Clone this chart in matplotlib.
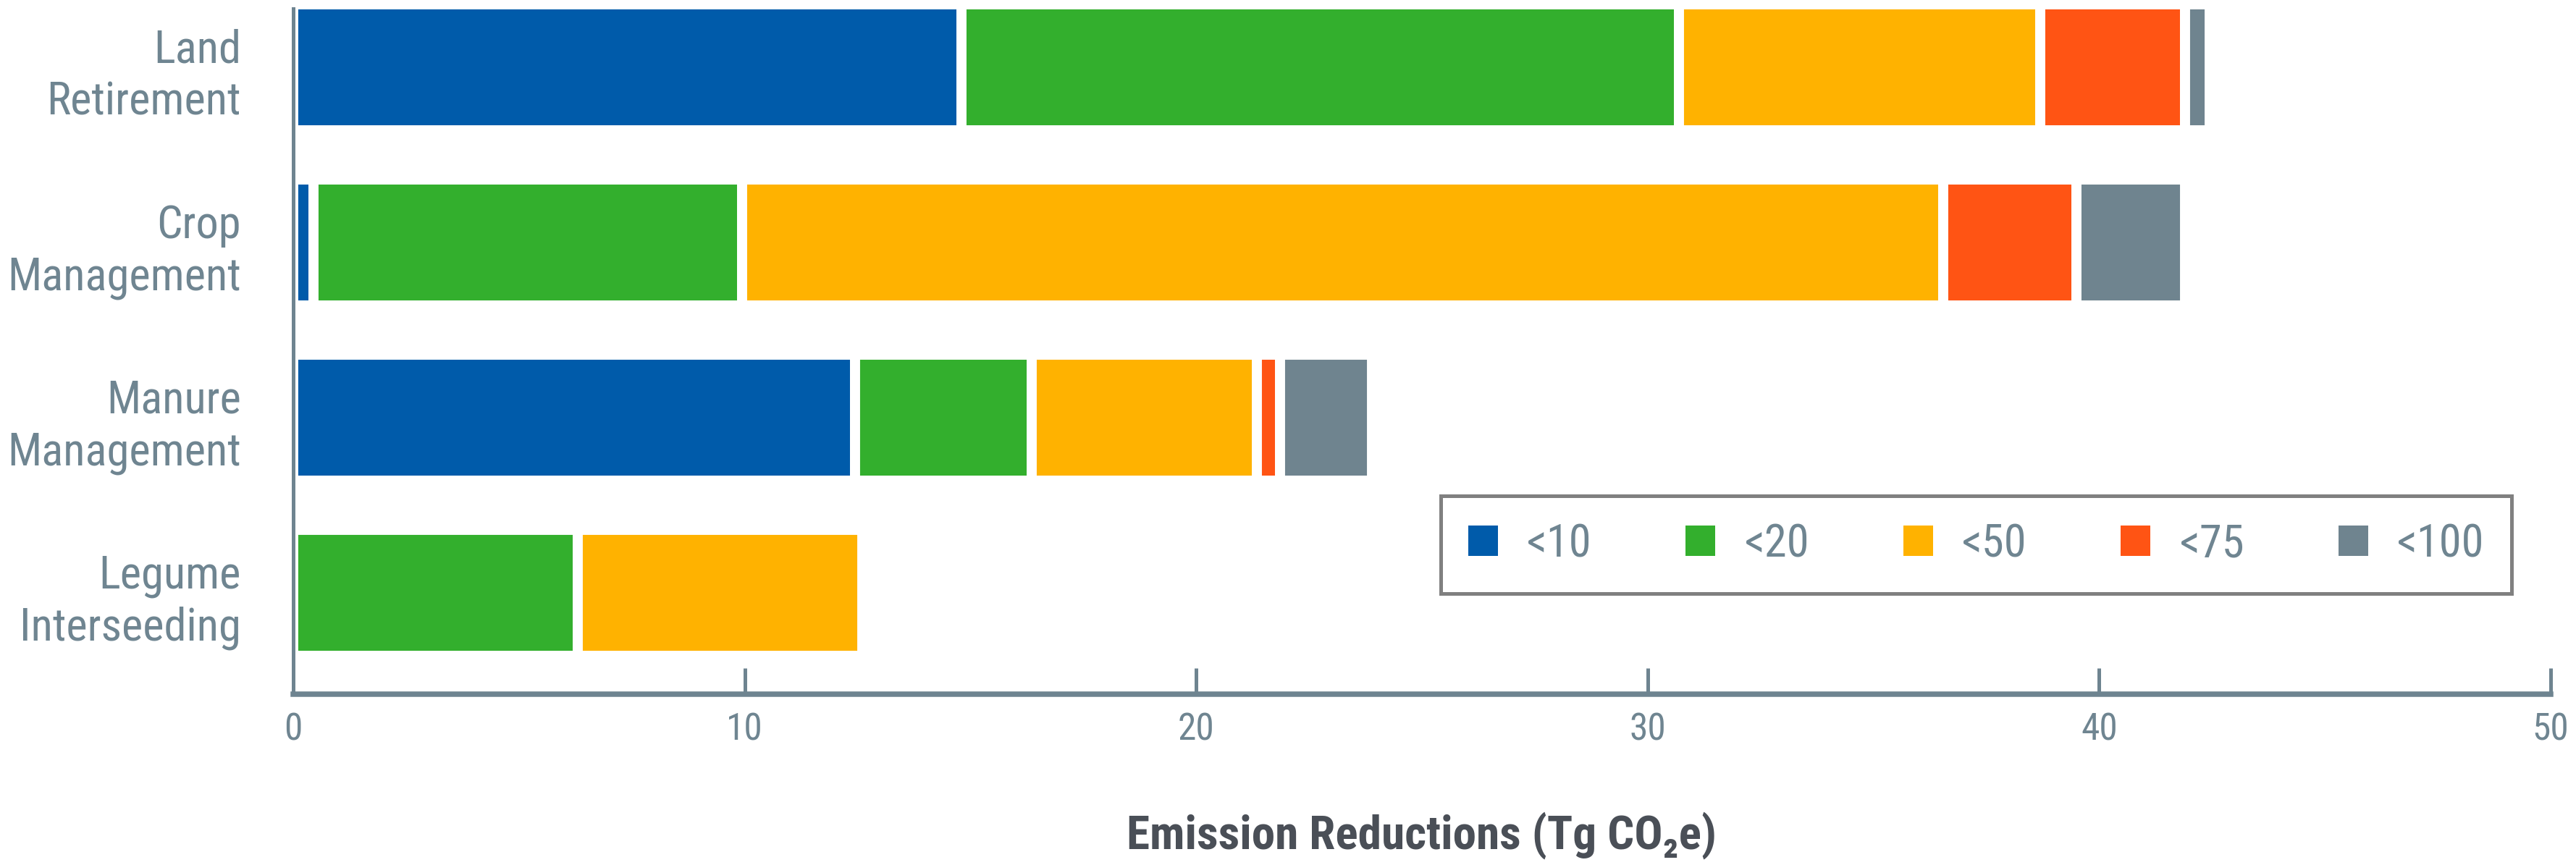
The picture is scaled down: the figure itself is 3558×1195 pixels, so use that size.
import matplotlib
matplotlib.use('Agg')
import matplotlib.pyplot as plt
from matplotlib import font_manager as fm
import numpy as np

# ---------------- data ----------------
categories = ['Land\nRetirement', 'Crop\nManagement', 'Manure\nManagement', 'Legume\nInterseeding']
series_labels = ['<10', '<20', '<50', '<75', '<100']
lt10 = [14.8, 0.45, 12.45, 0.0]
lt20 = [15.9, 9.5, 3.9, 6.3]
lt50 = [8.0, 26.6, 5.0, 6.3]
lt75 = [3.2, 2.95, 0.5, 0.0]
lt100 = [0.55, 2.4, 2.05, 0.0]
xticks = [0, 10, 20, 30, 40, 50]
xlabel = 'Emission Reductions (Tg CO\u2082e)'

series = [lt10, lt20, lt50, lt75, lt100]
colors = ['#005BAA', '#33AF2D', '#FFB200', '#FF5414', '#6F848F']
axis_color = '#6E8490'
text_color = '#6F8591'
title_color = '#4A4F57'

# ---------------- font choice (prefer a condensed face) ----------------
entries = [(f.name, f.stretch) for f in fm.fontManager.ttflist]
names = {n for n, _ in entries}
stretch = 'normal'
scale = 1.0
if 'Liberation Sans Narrow' in names:
    fam = 'Liberation Sans Narrow'
elif 'Roboto Condensed' in names:
    fam = 'Roboto Condensed'
elif 'DejaVu Sans Condensed' in names:
    fam = 'DejaVu Sans Condensed'
    scale = 0.9
elif any(n == 'DejaVu Sans' and s == 'condensed' for n, s in entries):
    fam = 'DejaVu Sans'
    stretch = 'condensed'
    scale = 0.9
else:
    fam = 'Liberation Sans'
    scale = 0.85

plt.rcParams['font.family'] = [fam, 'DejaVu Sans']
plt.rcParams['font.stretch'] = stretch

# ---------------- figure ----------------
W, H, DPI = 3558, 1195, 100
fig = plt.figure(figsize=(W / DPI, H / DPI), dpi=DPI)
ax = fig.add_axes([405 / W, 236.4 / H, 3118 / W, 946.6 / H])

y = np.arange(len(categories))
left = np.zeros(len(categories))
bar_h = 0.72
for vals, lab, col in zip(series, series_labels, colors):
    v = np.array(vals, dtype=float)
    m = v > 0
    ax.barh(y[m], v[m], left=left[m], height=bar_h, color=col,
            edgecolor='white', linewidth=10, label=lab, zorder=2)
    left = left + v

ax.set_xlim(0, 50)
ax.set_ylim(3.577, -0.336)
ax.set_xticks(xticks)
ax.set_xticklabels([str(t) for t in xticks])
ax.set_yticks(y)
ax.set_yticklabels(categories, linespacing=1.25)

for s in ['top', 'right']:
    ax.spines[s].set_visible(False)
ax.spines['left'].set_color(axis_color)
ax.spines['left'].set_linewidth(3.6)
ax.spines['bottom'].set_color(axis_color)
ax.spines['bottom'].set_linewidth(5.4)
ax.spines['left'].set_zorder(3)
ax.spines['bottom'].set_zorder(3)

ax.tick_params(axis='x', direction='in', length=26, width=3.6, color=axis_color,
               labelcolor=text_color, labelsize=37 * scale, pad=18)
ax.tick_params(axis='y', length=0, labelcolor=text_color, labelsize=45 * scale, pad=52)

ax.set_xlabel(xlabel, fontsize=47 * scale, fontweight='bold', color=title_color, labelpad=63)

# legend box spans x 1990..3469 px, y 684..820 px (from top)
x0 = (1990 - 405) / 3118
x1 = (3469 - 405) / 3118
yb = (958.6 - 820) / 946.6
yt = (958.6 - 684) / 946.6
leg = ax.legend(loc='center', bbox_to_anchor=(x0, yb, x1 - x0, yt - yb), mode='expand',
                ncol=5, frameon=True, fancybox=False, shadow=False, framealpha=1,
                fontsize=45 * scale, handlelength=0.66, handleheight=0.66,
                handletextpad=0.64, borderpad=0.6, borderaxespad=0)
frame = leg.get_frame()
frame.set_edgecolor('#808080')
frame.set_linewidth(3.6)
for t in leg.get_texts():
    t.set_color(text_color)
for h in leg.legend_handles:
    h.set_edgecolor('none')
    h.set_linewidth(0)

fig.savefig('out.png', dpi=DPI)
